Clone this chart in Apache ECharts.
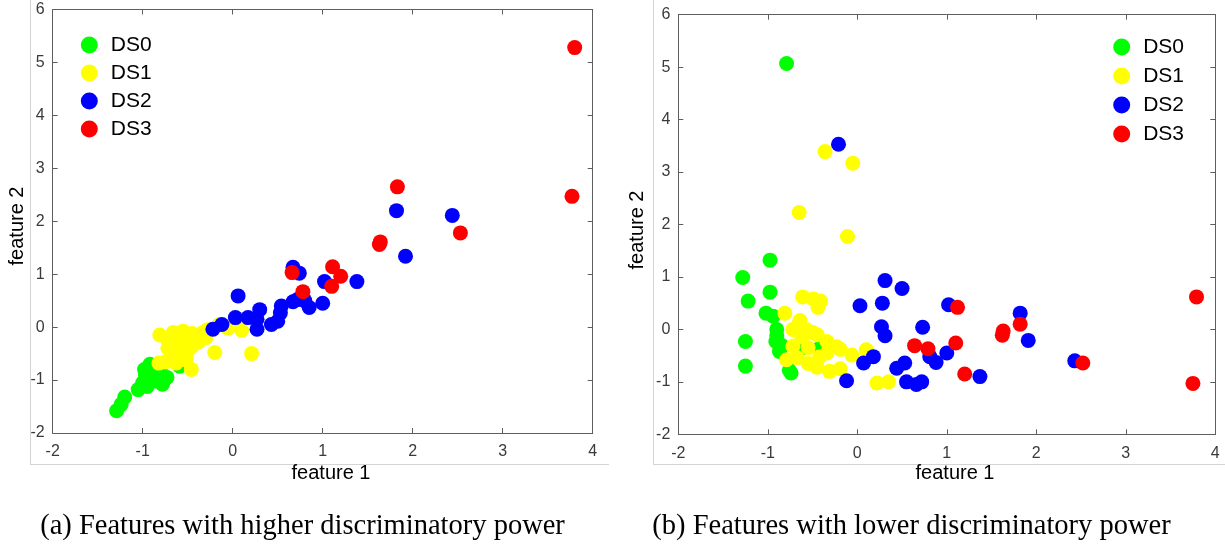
<!DOCTYPE html>
<html>
<head>
<meta charset="utf-8">
<script src="https://cdn.jsdelivr.net/npm/echarts@6/dist/echarts.min.js"></script>
<style>
html,body{margin:0;padding:0;background:#fff;}
#chart{width:1225px;height:552px;}
</style>
</head>
<body>
<div id="chart"></div>
<script>
// ---- data ----
const seriesNames = ['DS0', 'DS1', 'DS2', 'DS3'];
const xTicks = [-2, -1, 0, 1, 2, 3, 4];
const yTicks = [-2, -1, 0, 1, 2, 3, 4, 5, 6];
const captionA = '(a) Features with higher discriminatory power';
const captionB = '(b) Features with lower discriminatory power';
const xName = 'feature 1';
const yName = 'feature 2';

// panel (a): higher discriminatory power
const a_DS0 = [[-1.29,-1.58],[-1.24,-1.46],[-1.20,-1.32],[-1.05,-1.18],[-1.00,-1.05],[-0.95,-1.12],[-0.97,-0.90],[-0.98,-0.80],[-0.92,-0.70],[-0.88,-0.95],[-0.82,-0.88],[-0.78,-1.08],[-0.73,-0.95],[-0.85,-1.02],[-0.90,-0.82],[-0.80,-0.75],[-0.59,-0.74],[-0.95,-0.95]];
const a_DS1 = [[-0.81,-0.15],[-0.72,-0.25],[-0.66,-0.10],[-0.60,-0.18],[-0.55,-0.08],[-0.50,-0.20],[-0.45,-0.12],[-0.40,-0.17],[-0.33,-0.10],[-0.28,-0.05],[-0.62,-0.36],[-0.72,-0.40],[-0.55,-0.30],[-0.45,-0.36],[-0.50,-0.45],[-0.58,-0.52],[-0.66,-0.58],[-0.75,-0.66],[-0.82,-0.68],[-0.63,-0.68],[-0.46,-0.80],[-0.20,-0.48],[0.21,-0.50],[-0.05,-0.02],[0.10,-0.06],[0.05,0.12],[-0.15,0.05],[-0.38,-0.28],[-0.30,-0.20],[-0.52,-0.62]];
const a_DS2 = [[-0.22,-0.04],[-0.12,0.05],[0.03,0.18],[0.06,0.59],[0.17,0.18],[0.27,-0.04],[0.27,0.15],[0.30,0.33],[0.43,0.05],[0.50,0.11],[0.53,0.27],[0.54,0.40],[0.67,0.48],[0.72,0.52],[0.80,0.50],[0.85,0.37],[1.00,0.45],[0.67,1.13],[0.74,1.02],[1.02,0.86],[1.38,0.86],[1.82,2.20],[2.44,2.11],[1.92,1.34]];
const a_DS3 = [[3.80,5.28],[3.77,2.47],[1.83,2.65],[2.53,1.78],[1.63,1.56],[1.64,1.61],[1.11,1.14],[1.20,0.96],[1.10,0.77],[0.66,1.03],[0.78,0.67]];

// panel (b): lower discriminatory power
const b_DS0 = [[-0.79,5.07],[-1.28,0.99],[-0.975,1.32],[-1.22,0.54],[-0.975,0.71],[-1.02,0.31],[-0.94,0.25],[-0.90,0.0],[-0.90,-0.12],[-1.25,-0.23],[-0.91,-0.23],[-0.87,-0.42],[-1.25,-0.70],[-0.76,-0.78],[-0.74,-0.83],[-0.61,-0.35],[-0.42,-0.36],[-0.85,-0.30]];
const b_DS1 = [[-0.36,3.39],[-0.05,3.17],[-0.65,2.23],[-0.11,1.77],[-0.61,0.62],[-0.49,0.58],[-0.41,0.54],[-0.44,0.42],[-0.81,0.31],[-0.64,0.17],[-0.72,0.0],[-0.57,0.0],[-0.66,0.08],[-0.50,-0.06],[-0.45,-0.10],[-0.34,-0.23],[-0.23,-0.33],[-0.19,-0.38],[-0.06,-0.49],[0.10,-0.39],[-0.79,-0.58],[-0.67,-0.54],[-0.55,-0.65],[-0.45,-0.72],[-0.31,-0.80],[-0.19,-0.75],[-0.72,-0.32],[-0.55,-0.35],[-0.62,-0.15],[-0.42,-0.52],[-0.34,-0.45],[0.22,-1.02],[0.35,-1.00]];
const b_DS2 = [[-0.21,3.53],[0.31,0.93],[0.50,0.78],[0.03,0.45],[0.28,0.50],[0.27,0.05],[0.31,-0.12],[0.73,0.04],[1.02,0.47],[0.18,-0.52],[0.07,-0.64],[-0.12,-0.98],[0.44,-0.74],[0.53,-0.64],[0.55,-1.00],[0.66,-1.05],[0.72,-1.00],[0.81,-0.52],[0.88,-0.63],[1.00,-0.45],[1.37,-0.90],[1.82,0.31],[1.91,-0.21],[2.43,-0.60]];
const b_DS3 = [[3.79,0.62],[3.75,-1.03],[1.12,0.42],[1.10,-0.26],[0.64,-0.31],[0.79,-0.37],[1.20,-0.85],[1.63,-0.03],[1.62,-0.11],[1.82,0.10],[2.52,-0.64]];

// ---- styles ----
const colors = ['#00ff00', '#ffff00', '#0000ff', '#ff0000'];
const axisColor = '#5e5e5e';
const labelColor = '#3a3a3a';
const sans = 'Liberation Sans, Arial, sans-serif';
const serif = 'Liberation Serif, Times New Roman, serif';

const chart = echarts.init(document.getElementById('chart'), null, {renderer: 'canvas'});

const grids = [
  {left: 52.7, top: 9.5, width: 540, height: 423.5},
  {left: 678.3, top: 14.7, width: 537, height: 419.6}
];

function xAx(gi, pos, show) {
  return {
    type: 'value', gridIndex: gi, position: pos,
    min: xTicks[0], max: xTicks[xTicks.length - 1], interval: 1,
    axisLine: {show: true, onZero: false, lineStyle: {color: axisColor, width: 1}},
    axisTick: {show: true, inside: true, length: 5, lineStyle: {color: axisColor}},
    axisLabel: {show: show, margin: 11, color: labelColor, fontSize: 16, fontFamily: sans},
    splitLine: {show: false}
  };
}
function yAx(gi, pos, show) {
  return {
    type: 'value', gridIndex: gi, position: pos,
    min: yTicks[0], max: yTicks[yTicks.length - 1], interval: 1,
    axisLine: {show: true, onZero: false, lineStyle: {color: axisColor, width: 1}},
    axisTick: {show: true, inside: true, length: 5, lineStyle: {color: axisColor}},
    axisLabel: {show: show, margin: 8, color: labelColor, fontSize: 16, fontFamily: sans},
    splitLine: {show: false}
  };
}

const panelData = [[a_DS0, a_DS1, a_DS2, a_DS3], [b_DS0, b_DS1, b_DS2, b_DS3]];
const series = [];
panelData.forEach((sets, gi) => {
  sets.forEach((d, k) => {
    series.push({
      type: 'scatter', name: seriesNames[k],
      xAxisIndex: gi * 2, yAxisIndex: gi * 2,
      data: d, symbol: 'circle', symbolSize: 15,
      itemStyle: {color: colors[k], opacity: 1},
      emphasis: {disabled: true},
      z: 2 + k
    });
  });
});

function legendAt(left, top, gap) {
  return {
    data: seriesNames, orient: 'vertical', left: left, top: top, padding: 0,
    icon: 'circle', itemWidth: 17, itemHeight: 17, itemGap: gap,
    textStyle: {fontSize: 21, color: '#000', fontFamily: sans, padding: [0, 0, 0, 8]},
    selectedMode: false
  };
}

const frameColor = '#d4d4d4';
const option = {
  backgroundColor: '#fff',
  animation: false,
  color: colors,
  grid: grids,
  xAxis: [xAx(0, 'bottom', true), xAx(0, 'top', false), xAx(1, 'bottom', true), xAx(1, 'top', false)],
  yAxis: [yAx(0, 'left', true), yAx(0, 'right', false), yAx(1, 'left', true), yAx(1, 'right', false)],
  legend: [legendAt(80.8, 34.5, 7), legendAt(1113.2, 36.5, 8)],
  series: series,
  graphic: [
    {type: 'line', shape: {x1: 30.5, y1: 0, x2: 30.5, y2: 464.5}, style: {stroke: frameColor, lineWidth: 1}, silent: true},
    {type: 'line', shape: {x1: 30, y1: 464.5, x2: 609, y2: 464.5}, style: {stroke: frameColor, lineWidth: 1}, silent: true},
    {type: 'line', shape: {x1: 653.5, y1: 0, x2: 653.5, y2: 464.5}, style: {stroke: frameColor, lineWidth: 1}, silent: true},
    {type: 'line', shape: {x1: 653, y1: 464.5, x2: 1225, y2: 464.5}, style: {stroke: frameColor, lineWidth: 1}, silent: true},
    {type: 'text', x: 331, y: 473, style: {text: xName, fontSize: 20, fontFamily: sans, fill: '#000', align: 'center', verticalAlign: 'middle'}},
    {type: 'text', x: 955, y: 473, style: {text: xName, fontSize: 20, fontFamily: sans, fill: '#000', align: 'center', verticalAlign: 'middle'}},
    {type: 'text', x: 17, y: 226, rotation: Math.PI / 2, style: {text: yName, fontSize: 20, fontFamily: sans, fill: '#000', align: 'center', verticalAlign: 'middle'}},
    {type: 'text', x: 637, y: 230, rotation: Math.PI / 2, style: {text: yName, fontSize: 20, fontFamily: sans, fill: '#000', align: 'center', verticalAlign: 'middle'}},
    {type: 'text', x: 302.5, y: 527, style: {text: captionA, fontSize: 28.5, fontFamily: serif, fill: '#000', align: 'center', verticalAlign: 'middle'}},
    {type: 'text', x: 911.5, y: 527, style: {text: captionB, fontSize: 28.5, fontFamily: serif, fill: '#000', align: 'center', verticalAlign: 'middle'}}
  ]
};
chart.setOption(option);
</script>
</body>
</html>
